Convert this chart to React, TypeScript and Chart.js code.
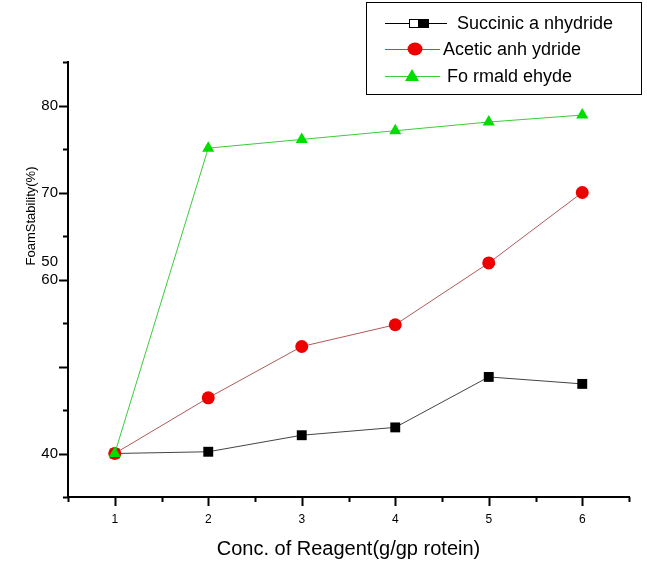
import React, { useEffect, useRef } from "react";
import { Chart, registerables } from "chart.js";

Chart.register(...registerables);

const concentrations = [1, 2, 3, 4, 5, 6];
const succinicAnhydride = [40, 40.2, 42.1, 43.0, 48.8, 48.0];
const aceticAnhydride = [40, 46.4, 52.3, 54.8, 61.9, 70];
const formaldehyde = [40, 75.1, 76.1, 77.1, 78.1, 78.9];
const seriesLabels = ["Succinic a nhydride", "Acetic anh ydride", "Fo rmald ehyde"];
const yLabelledTicks = [40, 60, 70, 80];
const extraYLabel = "50";
const xTitle = "Conc. of Reagent(g/gp rotein)";
const yTitle = "FoamStability(%)";

const FONT = '"Liberation Sans", Arial, sans-serif';

const toPoints = (ys: number[]) => concentrations.map((x, i) => ({ x, y: ys[i] }));

const isInt = (v: number) => Math.abs(v - Math.round(v)) < 1e-6;

const decorations = {
  id: "decorations",
  afterDraw(chart: any) {
    const { ctx, chartArea, scales } = chart;
    const xs = scales.x;
    const ys = scales.y;
    ctx.save();
    ctx.strokeStyle = "#000";
    ctx.lineWidth = 2;
    ys.ticks.forEach((t: any) => {
      const p = Math.round(ys.getPixelForValue(t.value)) + 0.5;
      const len = isInt(t.value / 10) ? 9 : 5;
      ctx.beginPath();
      ctx.moveTo(chartArea.left - len, p);
      ctx.lineTo(chartArea.left, p);
      ctx.stroke();
    });
    xs.ticks.forEach((t: any) => {
      const p = Math.round(xs.getPixelForValue(t.value)) + 0.5;
      const len = isInt(t.value) ? 9 : 5;
      ctx.beginPath();
      ctx.moveTo(p, chartArea.bottom);
      ctx.lineTo(p, chartArea.bottom + len);
      ctx.stroke();
    });

    // stray "50" label above the 60 label
    ctx.fillStyle = "#000";
    ctx.font = `15px ${FONT}`;
    ctx.textAlign = "right";
    ctx.textBaseline = "middle";
    ctx.fillText(extraYLabel, chartArea.left - 10, ys.getPixelForValue(60) - 18);

    // y title
    ctx.save();
    ctx.translate(31, ys.getPixelForValue(67.3));
    ctx.rotate(-Math.PI / 2);
    ctx.textAlign = "center";
    ctx.textBaseline = "middle";
    ctx.font = `13px ${FONT}`;
    ctx.fillText(yTitle, 0, 0);
    ctx.restore();

    // legend box
    const bx = 366, by = 2, bw = 275, bh = 92;
    ctx.fillStyle = "#fff";
    ctx.fillRect(bx, by, bw, bh);
    ctx.strokeStyle = "#000";
    ctx.lineWidth = 1;
    ctx.strokeRect(bx + 0.5, by + 0.5, bw, bh);

    const ds = chart.data.datasets;
    const rowY = [23, 49, 76];
    const lineEnd = [447, 440, 440];
    const markX = [419, 415, 412];
    const textX = [457, 443, 447];
    ds.forEach((d: any, i: number) => {
      const y = rowY[i];
      ctx.strokeStyle = d.legendLine;
      ctx.lineWidth = 1;
      ctx.beginPath();
      ctx.moveTo(385, y + 0.5);
      ctx.lineTo(lineEnd[i], y + 0.5);
      ctx.stroke();
      const mx = markX[i];
      if (i === 0) {
        ctx.fillStyle = "#fff";
        ctx.fillRect(mx - 10, y - 4, 10, 9);
        ctx.strokeStyle = "#000";
        ctx.strokeRect(mx - 9.5, y - 3.5, 9, 8);
        ctx.fillStyle = "#000";
        ctx.fillRect(mx, y - 4, 10, 9);
      } else if (i === 1) {
        ctx.fillStyle = d.pointBackgroundColor;
        ctx.beginPath();
        ctx.ellipse(mx, y, 7.5, 6.5, 0, 0, Math.PI * 2);
        ctx.fill();
      } else {
        ctx.fillStyle = d.pointBackgroundColor;
        ctx.beginPath();
        ctx.moveTo(mx, y - 7);
        ctx.lineTo(mx + 7, y + 5);
        ctx.lineTo(mx - 7, y + 5);
        ctx.closePath();
        ctx.fill();
      }
      ctx.fillStyle = "#000";
      ctx.font = `18px ${FONT}`;
      ctx.textAlign = "left";
      ctx.textBaseline = "middle";
      ctx.fillText(d.label, textX[i], y + 1);
    });
    ctx.restore();
  },
};

export default function App() {
  const ref = useRef<HTMLCanvasElement | null>(null);

  useEffect(() => {
    if (!ref.current) return;
    const chart = new Chart(ref.current, {
      type: "line",
      data: {
        datasets: [
          {
            label: seriesLabels[0],
            data: toPoints(succinicAnhydride),
            borderColor: "#444",
            borderWidth: 1,
            pointStyle: "rect",
            pointRadius: 7,
            pointBackgroundColor: "#000",
            pointBorderColor: "#000",
            pointBorderWidth: 0,
            order: 3,
            clip: false,
            legendLine: "#000",
          } as any,
          {
            label: seriesLabels[1],
            data: toPoints(aceticAnhydride),
            borderColor: "#b05a5a",
            borderWidth: 1,
            pointStyle: "circle",
            pointRadius: 6.5,
            pointBackgroundColor: "#ee0000",
            pointBorderColor: "#ee0000",
            pointBorderWidth: 0,
            order: 2,
            clip: false,
            legendLine: "#d04040",
          } as any,
          {
            label: seriesLabels[2],
            data: toPoints(formaldehyde),
            borderColor: "#3ccc3c",
            borderWidth: 1,
            pointStyle: "triangle",
            pointRadius: 7,
            pointBackgroundColor: "#00dd00",
            pointBorderColor: "#00dd00",
            pointBorderWidth: 0,
            order: 1,
            clip: false,
            legendLine: "#3ccc3c",
          } as any,
        ],
      },
      options: {
        animation: false,
        responsive: false,
        layout: { padding: { top: 62, right: 18, left: 0, bottom: 0 } },
        plugins: {
          legend: { display: false },
          tooltip: { enabled: false },
        },
        scales: {
          x: {
            type: "linear",
            min: 0.5,
            max: 6.5,
            afterFit: (s: any) => {
              s.height = 65;
            },
            grid: { display: false, drawTicks: false },
            border: { display: true, color: "#000", width: 2 },
            ticks: {
              stepSize: 0.5,
              autoSkip: false,
              maxRotation: 0,
              padding: 15,
              color: "#000",
              font: { family: FONT, size: 12 },
              callback: (v: any) => (isInt(Number(v)) ? String(Math.round(Number(v))) : ""),
            },
            title: {
              display: true,
              text: xTitle,
              color: "#000",
              font: { family: FONT, size: 20 },
              padding: { top: 0, bottom: 1 },
            },
          },
          y: {
            type: "linear",
            min: 35,
            max: 85,
            afterFit: (s: any) => {
              s.width = 68;
            },
            grid: { display: false, drawTicks: false },
            border: { display: true, color: "#000", width: 2 },
            ticks: {
              stepSize: 5,
              autoSkip: false,
              padding: 10,
              color: "#000",
              font: { family: FONT, size: 15 },
              callback: (v: any) =>
                yLabelledTicks.includes(Math.round(Number(v))) && isInt(Number(v)) ? String(Math.round(Number(v))) : "",
            },
          },
        },
      } as any,
      plugins: [decorations],
    });
    return () => chart.destroy();
  }, []);

  return (
    <div style={{ position: "absolute", left: 0, top: 0, width: 647, height: 562, background: "#fff" }}>
      <canvas ref={ref} width={647} height={562} style={{ display: "block" }} />
    </div>
  );
}
